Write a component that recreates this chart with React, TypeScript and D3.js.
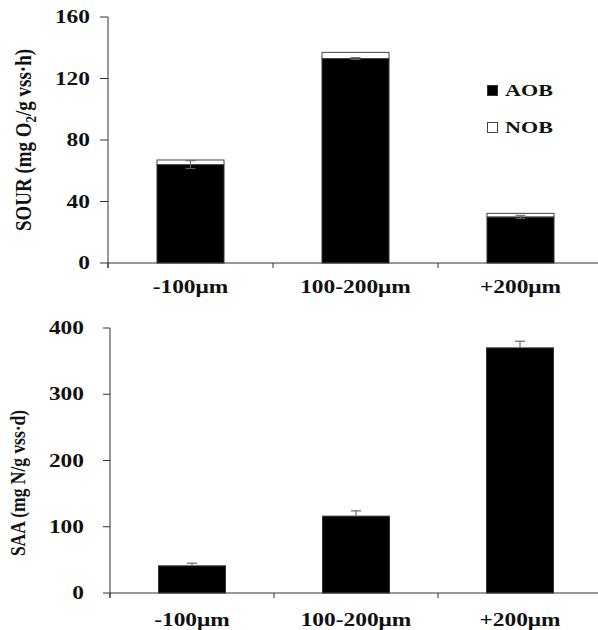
import React from "react";
import * as d3 from "d3";

const categories = ["-100μm", "100-200μm", "+200μm"];
const aob = [64, 133, 30];
const nob = [3, 4, 2.3];
const aobErr = [2.5, 0.6, 1];
const saa = [41, 116, 370];
const saaErr = [4, 8, 10];
const sourTicks = [0, 40, 80, 120, 160];
const saaTicks = [0, 100, 200, 300, 400];

const FONT = "'Liberation Serif', 'Times New Roman', serif";
const SX = 1.3;
const AXIS = "#333";
const ERR = "#666";

function HText({ x, y, anchor, size, children }: any) {
  return (
    <text
      transform={`translate(${x},${y}) scale(${SX},1)`}
      textAnchor={anchor}
      fontFamily={FONT}
      fontWeight="bold"
      fontSize={size}
      fill="#111"
    >
      {children}
    </text>
  );
}

export default function App() {
  const tx = d3.scaleBand().domain(categories).range([108, 603]);
  const ty = d3.scaleLinear().domain([0, 160]).range([263, 17]);
  const bw = 67;
  const bx = d3.scaleBand().domain(categories).range([110, 602]);
  const by = d3.scaleLinear().domain([0, 400]).range([593, 328]);

  const boundariesT = [tx.range()[0], ...categories.map((c) => (tx(c) as number) + tx.bandwidth())];
  const boundariesB = [bx.range()[0], ...categories.map((c) => (bx(c) as number) + bx.bandwidth())];

  return (
    <svg width={598} height={630} style={{ position: "absolute", left: 0, top: 0, background: "#fff" }}>
      {/* ===== TOP PANEL ===== */}
      {categories.map((c, i) => {
        const cx = (tx(c) as number) + tx.bandwidth() / 2;
        const x0 = cx - bw / 2;
        const yA = ty(aob[i]);
        const yT = ty(aob[i] + nob[i]);
        const yE1 = ty(aob[i] + aobErr[i]);
        const yE2 = ty(aob[i] - aobErr[i]);
        return (
          <g key={c}>
            <rect x={x0} y={yA} width={bw} height={ty(0) - yA} fill="#000" stroke="#333" strokeWidth={1} />
            <rect x={x0} y={yT} width={bw} height={yA - yT} fill="#fff" stroke="#444" strokeWidth={1} />
            <line x1={cx} x2={cx} y1={yE1} y2={yE2} stroke={ERR} strokeWidth={1} />
            <line x1={cx - 5} x2={cx + 5} y1={yE1} y2={yE1} stroke={ERR} strokeWidth={1} />
            <line x1={cx - 5} x2={cx + 5} y1={yE2} y2={yE2} stroke={ERR} strokeWidth={1} />
          </g>
        );
      })}
      <line x1={108} x2={108} y1={ty(160)} y2={ty(0) + 5} stroke={AXIS} strokeWidth={1} />
      <line x1={108} x2={603} y1={ty(0)} y2={ty(0)} stroke={AXIS} strokeWidth={1} />
      {boundariesT.map((b, i) => (
        <line key={i} x1={b} x2={b} y1={ty(0)} y2={ty(0) + 5} stroke={AXIS} strokeWidth={1} />
      ))}
      {sourTicks.map((t) => (
        <g key={t}>
          <line x1={100} x2={108} y1={ty(t)} y2={ty(t)} stroke={AXIS} strokeWidth={1} />
          <HText x={90} y={ty(t) + 6} anchor="end" size={18}>
            {t}
          </HText>
        </g>
      ))}
      {categories.map((c) => (
        <HText key={c} x={(tx(c) as number) + tx.bandwidth() / 2} y={293} anchor="middle" size={18}>
          {c}
        </HText>
      ))}
      <text
        transform={`translate(31,${(ty(0) + ty(160)) / 2}) rotate(-90) scale(1,1.2)`}
        textAnchor="middle"
        fontFamily={FONT}
        fontWeight="bold"
        fontSize={19}
        fill="#111"
      >
        SOUR (mg O<tspan fontSize={13} dy={4}>2</tspan>
        <tspan dy={-4}>/g vss·h)</tspan>
      </text>
      {/* legend */}
      <rect x={487.5} y={85.5} width={10} height={10} fill="#000" stroke="#333" />
      <HText x={505} y={96} anchor="start" size={17}>AOB</HText>
      <rect x={487.5} y={122.5} width={10} height={10} fill="#fff" stroke="#444" />
      <HText x={505} y={133} anchor="start" size={17}>NOB</HText>

      {/* ===== BOTTOM PANEL ===== */}
      {categories.map((c, i) => {
        const cx = (bx(c) as number) + bx.bandwidth() / 2;
        const x0 = cx - bw / 2;
        const yV = by(saa[i]);
        const yE = by(saa[i] + saaErr[i]);
        return (
          <g key={c}>
            <rect x={x0} y={yV} width={bw} height={by(0) - yV} fill="#000" stroke="#333" strokeWidth={1} />
            <line x1={cx} x2={cx} y1={yE} y2={yV} stroke={ERR} strokeWidth={1.2} />
            <line x1={cx - 5} x2={cx + 5} y1={yE} y2={yE} stroke={ERR} strokeWidth={1.2} />
          </g>
        );
      })}
      <line x1={110} x2={110} y1={by(400)} y2={by(0) + 5} stroke={AXIS} strokeWidth={1} />
      <line x1={110} x2={602} y1={by(0)} y2={by(0)} stroke={AXIS} strokeWidth={1} />
      {boundariesB.map((b, i) => (
        <line key={i} x1={b} x2={b} y1={by(0)} y2={by(0) + 5} stroke={AXIS} strokeWidth={1} />
      ))}
      {saaTicks.map((t) => (
        <g key={t}>
          <line x1={103} x2={110} y1={by(t)} y2={by(t)} stroke={AXIS} strokeWidth={1} />
          <HText x={84} y={by(t) + 6} anchor="end" size={18}>
            {t}
          </HText>
        </g>
      ))}
      {categories.map((c) => (
        <HText key={c} x={(bx(c) as number) + bx.bandwidth() / 2} y={626} anchor="middle" size={18}>
          {c}
        </HText>
      ))}
      <text
        transform={`translate(25,483) rotate(-90) scale(1,1.2)`}
        textAnchor="middle"
        fontFamily={FONT}
        fontWeight="bold"
        fontSize={17.5}
        fill="#111"
      >
        SAA (mg N/g vss·d)
      </text>
    </svg>
  );
}
